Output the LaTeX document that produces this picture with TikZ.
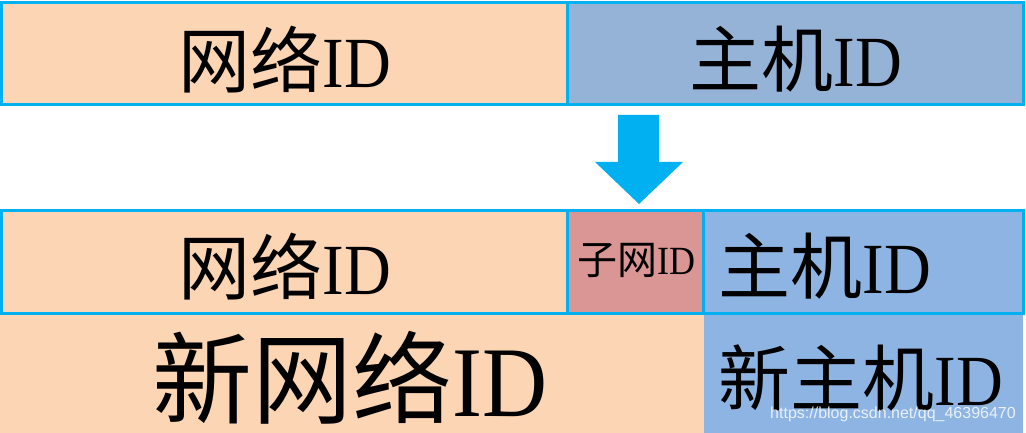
\documentclass[tikz,border=0pt]{standalone}
\usepackage{fontspec}
\setmainfont{Liberation Serif}
\newfontfamily\cjk{Noto Sans CJK SC}
\newfontfamily\wmfont{Liberation Sans}
\usetikzlibrary{calc}

\definecolor{peach}{HTML}{FCD5B4}
\definecolor{hostgray}{HTML}{95B3D7}
\definecolor{hostblue}{HTML}{8DB4E2}
\definecolor{subred}{HTML}{DA9694}
\definecolor{cyanline}{HTML}{00B0F0}

% narrow serif "ID"
\newcommand{\ID}{{\rmfamily\scalebox{0.9}[1]{ID}}}

\begin{document}
\begin{tikzpicture}[x=1pt, y=-1pt,
    cell/.style={draw=cyanline, line width=3pt},
    lbl/.style={inner sep=0pt, anchor=center, text=black},
    every node/.style={transform shape=false}]

    % ---- Parameters (pixel grid) ----
    \def\Wx{1023}      % right edge
    \def\Ax{567}       % network / host split
    \def\Bx{703.5}     % subnet / host split

    \useasboundingbox (0,0) rectangle (1026,433);

    % ---- Bottom row (no border) ----
    \fill[peach] (0,313) rectangle (\Bx,433);
    \fill[hostblue] (\Bx,313) rectangle (\Wx,433);

    % ---- Top row ----
    \filldraw[cell, fill=peach] (1.5,2.5) rectangle (\Ax,104.5);
    \filldraw[cell, fill=hostgray] (\Ax,2.5) rectangle (\Wx,104.5);

    % ---- Middle row ----
    \filldraw[cell, fill=peach] (1.5,210.5) rectangle (\Ax,313);
    \filldraw[cell, fill=subred] (\Ax,210.5) rectangle (\Bx,313);
    \filldraw[cell, fill=hostblue] (\Bx,210.5) rectangle (\Wx,313);

    % ---- Down arrow ----
    \fill[cyanline] (618,115) -- (659,115) -- (659,162) -- (683,162)
        -- (639,204) -- (595,162) -- (618,162) -- cycle;

    % ---- Labels ----
    \node[lbl, font=\cjk\fontsize{72}{72}\selectfont] (net1) at (285,60) {网络\ID};
    \node[lbl, font=\cjk\fontsize{72}{72}\selectfont] (host1) at (796,59) {主机\ID};
    \node[lbl, font=\cjk\fontsize{72}{72}\selectfont] (net2) at (285,267) {网络\ID};
    \node[lbl, font=\cjk\fontsize{40}{40}\selectfont] (sub2) at (636,260) {子网\ID};
    \node[lbl, font=\cjk\fontsize{72}{72}\selectfont] (host2) at (825,266) {主机\ID};
    \node[lbl, font=\cjk\fontsize{100}{100}\selectfont] (newnet) at (350,378) {新网络\ID};
    \node[lbl, font=\cjk\fontsize{72}{72}\selectfont] (newhost) at (861,378) {新主机\ID};

    % ---- Watermark ----
    \node[lbl, font=\wmfont\fontsize{16}{16}\selectfont, text=white, text opacity=0.8]
        (wmark) at (893,414) {https://blog.csdn.net/qq\_46396470};

\end{tikzpicture}
\end{document}
